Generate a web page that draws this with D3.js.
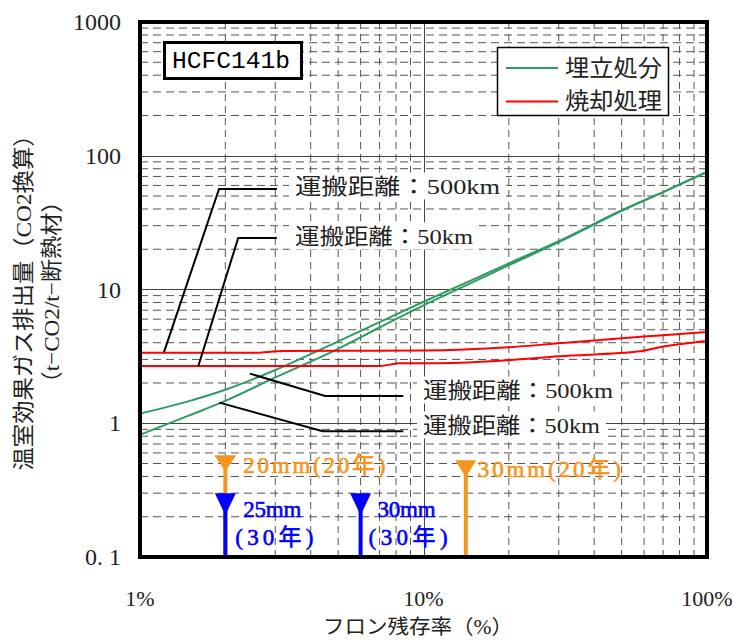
<!DOCTYPE html>
<html><head><meta charset="utf-8">
<script src="https://cdn.jsdelivr.net/npm/d3@7"></script>
<style>body{margin:0;background:#fff}svg{display:block}</style>
</head><body>
<svg id="c" width="733" height="641"></svg>
<script>
// ---- data ----
const xTickValues = [1, 10, 100];
const xTickLabels = ["1%", "10%", "100%"];
const yTickValues = [0.1, 1, 10, 100, 1000];
const yTickLabels = ["0. 1", "1", "10", "100", "1000"];

const greenUpperX = [1, 1.5, 2, 3, 5, 7, 10, 15, 20, 30, 50, 70, 100];
const greenUpperY = [1.18, 1.47, 1.78, 2.5, 4.1, 5.7, 8.1, 11.9, 15.7, 23.0, 39.0, 53.5, 75.7];
const greenLowerX = [1, 1.5, 2, 3, 5, 7, 10, 15, 20, 30, 50, 70, 100];
const greenLowerY = [0.82, 1.15, 1.47, 2.2, 3.6, 5.2, 7.6, 11.4, 15.2, 22.6, 38.8, 53.5, 75.7];
const redUpperX = [1, 2.5, 3.2, 10, 20, 30, 50, 70, 100];
const redUpperY = [3.36, 3.36, 3.47, 3.5, 3.7, 3.96, 4.32, 4.55, 4.82];
const redLowerX = [1, 7, 8.3, 11.4, 20, 30, 58, 68, 100];
const redLowerY = [2.68, 2.68, 2.81, 2.81, 2.96, 3.17, 3.45, 3.70, 4.12];

const legendLabels = ["埋立処分", "焼却処理"];
const seriesColors = ["#2e9a64", "#ff0000"];

// leader lines (data coordinates) and their labels
const leaderLabels = ["運搬距離：500km", "運搬距離：50km", "運搬距離：500km", "運搬距離：50km"];
const leaderX = [[1.215, 1.90, 3.04], [1.606, 2.22, 3.04], [2.44, 4.50, 8.49], [1.905, 4.41, 8.49]];
const leaderY = [[3.40, 56.5, 56.5], [2.68, 24.3, 24.3], [2.35, 1.60, 1.60], [1.427, 0.871, 0.871]];

// insulation thickness markers
const markerX = [2, 2, 6, 14.1];
const markerTop = [0.576, 0.30, 0.30, 0.53];
const markerColors = ["#f7941d", "#0000ff", "#0000ff", "#f7941d"];
const markerLabels = [["20mm(20年)"], ["25mm", "(30年)"], ["30mm", "(30年)"], ["30mm(20年)"]];

// ---- drawing ----
const svg = d3.select("#c");
const L = 140, R = 707, T = 22, B = 557;
const x = d3.scaleLog().domain([1, 100]).range([L, R]);
const y = d3.scaleLog().domain([0.1, 1000]).range([B, T]);
const serif = "'Liberation Serif','Noto Sans CJK JP',serif";

// grid
const minorY = [], majorY = [1, 10, 100];
[0.1, 1, 10, 100].forEach(d => { for (let k = 2; k <= 9; k++) minorY.push(d * k); });
const minorX = [], majorX = [10];
[1, 10].forEach(d => { for (let k = 2; k <= 9; k++) minorX.push(d * k); });
const g = svg.append("g");
g.selectAll(".hy").data(minorY).join("line")
  .attr("x1", L).attr("x2", R).attr("y1", d => y(d)).attr("y2", d => y(d))
  .attr("stroke", "#555").attr("stroke-width", 1).attr("stroke-dasharray", "8,5");
g.selectAll(".vx").data(minorX).join("line")
  .attr("y1", T).attr("y2", B).attr("x1", d => x(d)).attr("x2", d => x(d))
  .attr("stroke", "#555").attr("stroke-width", 1).attr("stroke-dasharray", "7,5");
g.selectAll(".my").data(majorY).join("line")
  .attr("x1", L).attr("x2", R).attr("y1", d => Math.round(y(d)) + 0.5).attr("y2", d => Math.round(y(d)) + 0.5)
  .attr("stroke", "#444").attr("stroke-width", 1);
g.selectAll(".mx").data(majorX).join("line")
  .attr("y1", T).attr("y2", B).attr("x1", d => Math.round(x(d)) + 0.5).attr("x2", d => Math.round(x(d)) + 0.5)
  .attr("stroke", "#444").attr("stroke-width", 1);

// series
const line = d3.line().x(d => x(d[0])).y(d => y(d[1])).curve(d3.curveMonotoneX);
const series = [
  [greenUpperX, greenUpperY, 0], [greenLowerX, greenLowerY, 0],
  [redUpperX, redUpperY, 1], [redLowerX, redLowerY, 1]
];
series.forEach(([xs, ys, c]) => {
  svg.append("path").datum(xs.map((v, i) => [v, ys[i]]))
    .attr("d", line).attr("fill", "none")
    .attr("stroke", seriesColors[c]).attr("stroke-width", 2);
});

// leader labels with white background
const labelPos = [[295, 186, 205], [295, 236, 178], [423, 390, 190], [423, 425, 177]];
leaderLabels.forEach((t, i) => {
  const [lx, ly, len] = labelPos[i];
  const gg = svg.append("g");
  const bg = gg.append("rect").attr("fill", "#fff");
  const tx = gg.append("text").attr("x", lx).attr("y", ly)
    .attr("dominant-baseline", "central").attr("font-family", serif)
    .attr("font-size", 22).attr("fill", "#222")
    .attr("textLength", len).attr("lengthAdjust", "spacingAndGlyphs").text(t);
  const b = tx.node().getBBox();
  bg.attr("x", b.x - 6).attr("y", b.y - 1).attr("width", b.width + 12).attr("height", b.height + 2);
});
const lline = d3.line().x(d => x(d[0])).y(d => y(d[1]));
leaderX.forEach((xs, i) => {
  svg.append("path").datum(xs.map((v, j) => [v, leaderY[i][j]]))
    .attr("d", lline).attr("fill", "none").attr("stroke", "#000").attr("stroke-width", 2);
});

// markers
const triW = [22, 21, 21, 21], triH = [16, 22, 22, 17];
markerX.forEach((mx, i) => {
  const px = x(mx), top = y(markerTop[i]);
  svg.append("line").attr("x1", px).attr("x2", px).attr("y1", top + 2).attr("y2", B)
    .attr("stroke", markerColors[i]).attr("stroke-width", 4);
  svg.append("path")
    .attr("d", `M${px - triW[i] / 2},${top}L${px + triW[i] / 2},${top}L${px},${top + triH[i]}Z`)
    .attr("fill", markerColors[i]);
});
const mLabelPos = [
  [[18, 465, 142]],
  [[18, 509, 58], [10, 537, 78]],
  [[17, 509, 58], [8, 537, 79]],
  [[12, 469, 143]]
];
markerLabels.forEach((lines, i) => {
  const px = x(markerX[i]);
  lines.forEach((t, j) => {
    const [dx, ly, len] = mLabelPos[i][j];
    svg.append("text").attr("x", px + dx).attr("y", ly)
      .attr("dominant-baseline", "central").attr("font-family", serif)
      .attr("font-size", 23).attr("fill", markerColors[i])
      .attr("stroke", markerColors[i]).attr("stroke-width", 0.6)
      .attr("textLength", len).attr("lengthAdjust", "spacing").text(t);
  });
});

// legend
svg.append("rect").attr("x", 497.5).attr("y", 47.5).attr("width", 171).attr("height", 68)
  .attr("fill", "#fff").attr("stroke", "#000").attr("stroke-width", 1.5);
legendLabels.forEach((t, i) => {
  const ly = 68 + i * 33.5;
  svg.append("line").attr("x1", 506).attr("x2", 558).attr("y1", ly).attr("y2", ly)
    .attr("stroke", seriesColors[i]).attr("stroke-width", 2);
  svg.append("text").attr("x", 565).attr("y", ly).attr("dominant-baseline", "central")
    .attr("font-family", serif).attr("font-size", 23).attr("fill", "#222")
    .attr("textLength", 97).attr("lengthAdjust", "spacingAndGlyphs").text(t);
});

// HCFC141b box
svg.append("rect").attr("x", 164.5).attr("y", 42.5).attr("width", 137).attr("height", 36)
  .attr("fill", "#fff").attr("stroke", "#000").attr("stroke-width", 3);
svg.append("text").attr("x", 172).attr("y", 61).attr("dominant-baseline", "central")
  .attr("font-family", "'Liberation Mono',monospace").attr("font-size", 24).attr("fill", "#000")
  .attr("textLength", 118).attr("lengthAdjust", "spacingAndGlyphs").text("HCFC141b");

// plot border
svg.append("rect").attr("x", L).attr("y", T).attr("width", R - L).attr("height", B - T)
  .attr("fill", "none").attr("stroke", "#000").attr("stroke-width", 4);

// tick labels
yTickValues.forEach((v, i) => {
  svg.append("text").attr("x", 121).attr("y", y(v)).attr("text-anchor", "end")
    .attr("dominant-baseline", "central").attr("font-family", serif)
    .attr("font-size", 24).attr("fill", "#222").text(yTickLabels[i]);
});
xTickValues.forEach((v, i) => {
  svg.append("text").attr("x", x(v)).attr("y", 598).attr("text-anchor", "middle")
    .attr("dominant-baseline", "central").attr("font-family", serif)
    .attr("font-size", 22).attr("fill", "#222").text(xTickLabels[i]);
});

// axis titles
svg.append("text").attr("transform", "translate(418,627)").attr("text-anchor", "middle")
  .attr("dominant-baseline", "central").attr("font-family", serif).attr("font-size", 20)
  .attr("fill", "#222").attr("textLength", 190).attr("lengthAdjust", "spacingAndGlyphs")
  .text("フロン残存率（%）");
svg.append("text").attr("transform", "translate(23,297) rotate(-90)").attr("text-anchor", "middle")
  .attr("dominant-baseline", "central").attr("font-family", serif).attr("font-size", 22)
  .attr("fill", "#222").attr("textLength", 347).attr("lengthAdjust", "spacingAndGlyphs")
  .text("温室効果ガス排出量（CO2換算）");
svg.append("text").attr("transform", "translate(51,292) rotate(-90)").attr("text-anchor", "middle")
  .attr("dominant-baseline", "central").attr("font-family", serif).attr("font-size", 22)
  .attr("fill", "#222").attr("textLength", 205).attr("lengthAdjust", "spacingAndGlyphs")
  .text("（t−CO2/t−断熱材）");
</script>
</body></html>
